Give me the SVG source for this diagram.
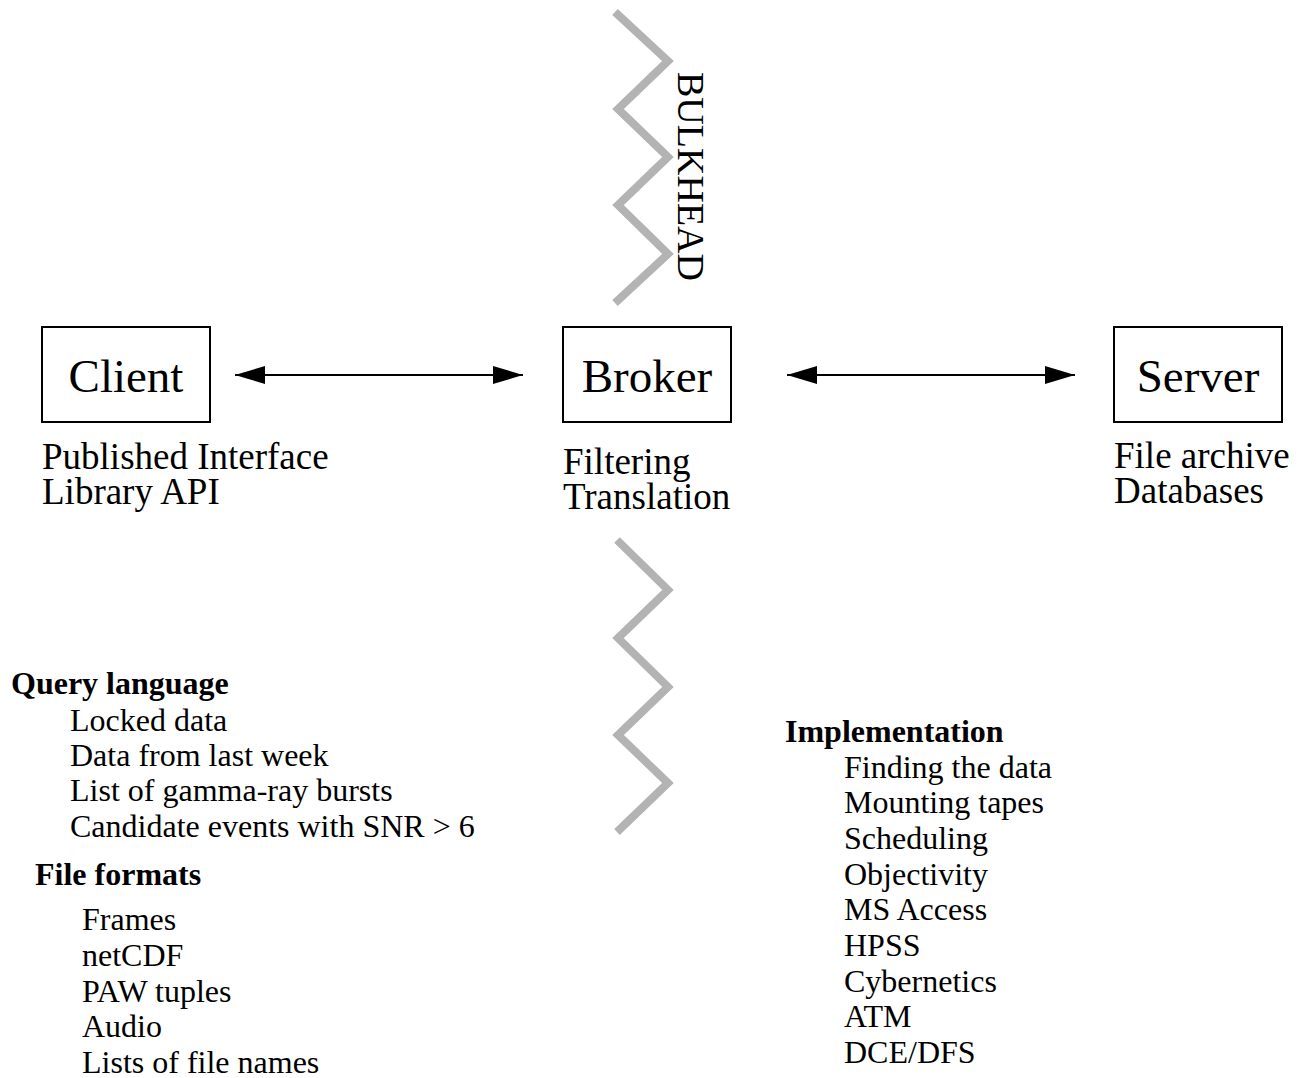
<svg xmlns="http://www.w3.org/2000/svg" width="1302" height="1078" viewBox="0 0 1302 1078">
  <style>
    .box { fill: #ffffff; stroke: #000000; stroke-width: 2; }
    .title { font-family: "Liberation Serif", "Times New Roman", serif; font-size: 47px; fill: #000000; text-anchor: middle; }
    .lbl { font-family: "Liberation Serif", "Times New Roman", serif; font-size: 37px; fill: #000000; }
    .head { font-family: "Liberation Serif", "Times New Roman", serif; font-size: 32px; font-weight: bold; fill: #000000; }
    .item { font-family: "Liberation Serif", "Times New Roman", serif; font-size: 32px; fill: #000000; }
    .wall { fill: none; stroke: #b3b3b3; stroke-width: 8; stroke-linejoin: miter; }
    .link { stroke: #000000; stroke-width: 2; fill: none; }
  </style>
  <defs>
    <marker id="head" markerUnits="userSpaceOnUse" markerWidth="30" markerHeight="18" refX="30" refY="9" orient="auto-start-reverse">
      <path d="M0,0 L30,9 L0,18 Z" fill="#000000"/>
    </marker>
  </defs>
  <rect width="1302" height="1078" fill="#ffffff"/>

  <!-- bulkhead walls -->
  <g id="bulkhead">
    <polyline class="wall" points="615,12 668,61 618,109 668,157 618,205 668,254 615,303"/>
    <polyline class="wall" points="617,540 668,590 618,638 668,687 618,735 668,783 617,832"/>
    <text class="lbl" transform="translate(678,72) rotate(90)" style="font-size:38px">BULKHEAD</text>
  </g>

  <!-- connectors -->
  <g id="connectors">
    <line class="link" x1="235" y1="375" x2="523" y2="375" marker-start="url(#head)" marker-end="url(#head)"/>
    <line class="link" x1="787" y1="375" x2="1075" y2="375" marker-start="url(#head)" marker-end="url(#head)"/>
  </g>

  <g id="client">
    <rect class="box" x="42" y="327" width="168" height="95"/>
    <text class="title" x="126" y="392">Client</text>
    <text class="lbl" x="42" y="469">Published Interface</text>
    <text class="lbl" x="42" y="504">Library API</text>
  </g>

  <g id="broker">
    <rect class="box" x="563" y="327" width="168" height="95"/>
    <text class="title" x="647" y="392">Broker</text>
    <text class="lbl" x="563" y="474">Filtering</text>
    <text class="lbl" x="563" y="509">Translation</text>
  </g>

  <g id="server">
    <rect class="box" x="1114" y="327" width="168" height="95"/>
    <text class="title" x="1198" y="392">Server</text>
    <text class="lbl" x="1114" y="468">File archive</text>
    <text class="lbl" x="1114" y="503">Databases</text>
  </g>

  <g id="query-language">
    <text class="head" x="11" y="694">Query language</text>
    <text class="item" x="70" y="731">Locked data</text>
    <text class="item" x="70" y="766">Data from last week</text>
    <text class="item" x="70" y="801">List of gamma-ray bursts</text>
    <text class="item" x="70" y="837">Candidate events with SNR &gt; 6</text>
  </g>

  <g id="file-formats">
    <text class="head" x="35" y="885">File formats</text>
    <text class="item" x="82" y="930">Frames</text>
    <text class="item" x="82" y="966">netCDF</text>
    <text class="item" x="82" y="1002">PAW tuples</text>
    <text class="item" x="82" y="1037">Audio</text>
    <text class="item" x="82" y="1073">Lists of file names</text>
  </g>

  <g id="implementation">
    <text class="head" x="785" y="742">Implementation</text>
    <text class="item" x="844" y="778">Finding the data</text>
    <text class="item" x="844" y="813">Mounting tapes</text>
    <text class="item" x="844" y="849">Scheduling</text>
    <text class="item" x="844" y="885">Objectivity</text>
    <text class="item" x="844" y="920">MS Access</text>
    <text class="item" x="844" y="956">HPSS</text>
    <text class="item" x="844" y="992">Cybernetics</text>
    <text class="item" x="844" y="1027">ATM</text>
    <text class="item" x="844" y="1063">DCE/DFS</text>
  </g>
</svg>
